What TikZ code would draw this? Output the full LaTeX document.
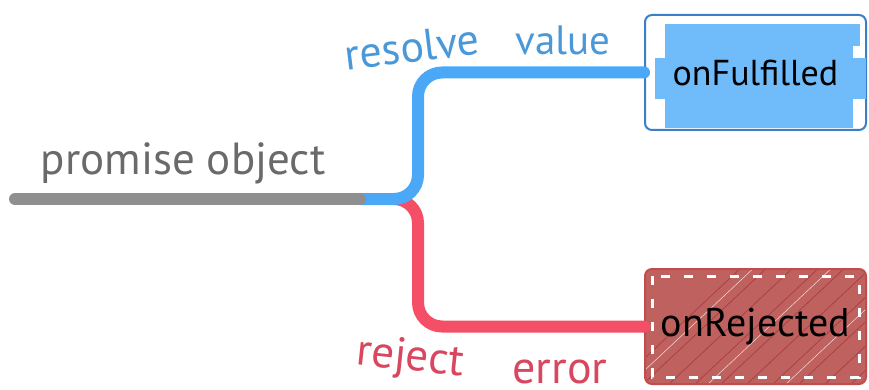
\documentclass[tikz,border=0pt]{standalone}
\usepackage{fontspec}
\setmainfont{PT Sans}
\definecolor{linegray}{HTML}{8F8F8F}
\definecolor{lineblue}{HTML}{4AA8F7}
\definecolor{linered}{HTML}{F44F66}
\definecolor{txtgray}{HTML}{6A6A6A}
\definecolor{txtblue}{HTML}{4A98D8}
\definecolor{txtred}{HTML}{D8475F}
\definecolor{boxblue}{HTML}{3B7FC8}
\definecolor{fillblue}{HTML}{70BBF9}
\definecolor{boxred}{HTML}{C24B4B}
\definecolor{fillred}{HTML}{BF625F}
\definecolor{hatchred}{HTML}{A94141}
\begin{document}
\begin{tikzpicture}[x=1pt,y=-1pt,
  wire/.style={line width=12pt,line cap=round,rounded corners=24pt},
  boxstyle/.style={rounded corners=7pt,line width=2pt,minimum width=221pt,minimum height=115pt,inner sep=0pt},
  lbl/.style={inner sep=0pt},
  boxlbl/.style={inner sep=0pt,text=black}]
\useasboundingbox (0,0) rectangle (869,390);
% boxes
\node[boxstyle,draw=boxblue,fill=white] (ful) at (755.5,72.5) {};
\fill[fillblue] (665,24) rectangle (853,128);
\fill[fillblue] (655,58) rectangle (866,99);
\fill[fillblue] (665,24) rectangle (860,46);
\node[boxstyle,draw=boxred,fill=fillred] (rej) at (755.5,326.5) {};
\begin{scope}
\clip[rounded corners=7pt] (646,270) rectangle (865,383);
\foreach \i in {0,26,...,420} {
  \draw[hatchred,line width=0.8pt] (600+\i,400) -- (760+\i,250);
}
\foreach \i in {13,91,...,420} {
  \draw[white!80!fillred,line width=0.5pt] (600+\i,400) -- (760+\i,250);
}
\end{scope}
\draw[white,line width=3pt,dash pattern=on 9pt off 14pt] (652,276) rectangle (859,377);
% coordinates
\coordinate (start) at (15,199);
\coordinate (split) at (360,199);
\coordinate (fork) at (418,199);
\coordinate (forkr) at (395,199);
% wires
\draw[wire,linered] (forkr) -- (fork) |- (rej.west);
\draw[wire,lineblue] (split) -- (fork) |- (ful.west);
\draw[line width=12pt,line cap=round,linegray] (start) -- (split);
% labels
\node[lbl,text=txtgray,font=\fontsize{45}{45}\selectfont] (po) at (183,163) {promise object};
\node[lbl,text=txtblue,rotate=7,font=\fontsize{44}{44}\selectfont] (res) at (412,47) {resolve};
\node[lbl,text=txtblue,font=\fontsize{41}{41}\selectfont] (val) at (563,40) {value};
\node[lbl,text=txtred,rotate=-6,font=\fontsize{45}{45}\selectfont] (rj) at (410,359) {reject};
\node[lbl,text=txtred,font=\fontsize{46}{46}\selectfont] (err) at (560,372) {error};
\node[boxlbl,font=\fontsize{36}{36}\selectfont] (fultxt) at (ful) {onFulfilled};
\node[boxlbl,font=\fontsize{40}{40}\selectfont] (rejtxt) at (rej) {onRejected};
\end{tikzpicture}
\end{document}
